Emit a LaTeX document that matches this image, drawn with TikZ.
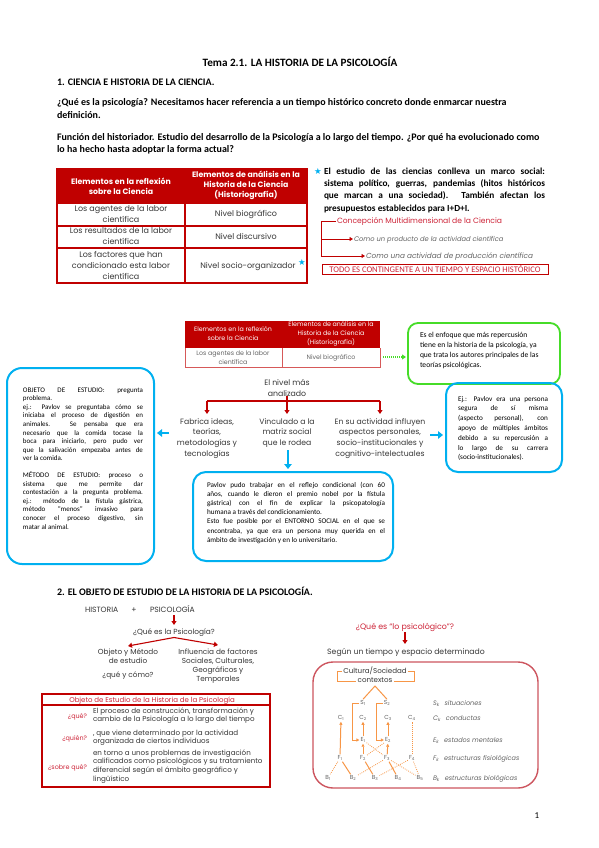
\documentclass[tikz,border=0pt]{standalone}
\usepackage{fontspec}
\setmainfont{Carlito}
\newfontfamily\cg{Poppins}
\newfontfamily\dv{DejaVu Sans}
\usetikzlibrary{arrows.meta}
\definecolor{tred}{RGB}{192,0,0}
\definecolor{rtxt}{RGB}{205,35,55}
\definecolor{cblue}{RGB}{0,176,240}
\definecolor{cgreen}{RGB}{70,220,40}
\definecolor{corange}{RGB}{247,150,70}
\definecolor{cpink}{RGB}{205,85,95}
\definecolor{dgray}{RGB}{55,55,55}
\definecolor{mgray}{RGB}{100,100,100}
\newcommand\jl[2]{\makebox[#1][s]{#2}}
\newcommand\cgf[2]{\cg\fontsize{#1}{#2}\selectfont}
\newcommand\cbf[2]{\fontsize{#1}{#2}\selectfont}
\begin{document}
\begin{tikzpicture}[x=1pt,y=-1pt,
 txt/.style={inner sep=0pt,outer sep=0pt},
 body/.style={txt,anchor=base west,font=\cbf{10}{12}\bfseries},
 rbody/.style={txt,anchor=base west,font=\cbf{9.3}{12}\bfseries},
 tline/.style={tred,line width=1.2pt},
 redarr/.style={tred,line width=1.1pt,-{Triangle[length=4pt,width=5pt]}},
 bluearr/.style={cblue,line width=2.6pt,-{Triangle[length=5pt,width=7.5pt]}},
 boxnode/.style={draw,inner sep=0pt,outer sep=0pt,anchor=north west},
 orl/.style={corange,line width=1pt},
 ora/.style={corange,line width=1pt,-{Triangle[length=3pt,width=3pt]}},
 ord/.style={corange,line width=0.8pt,dash pattern=on 0.8pt off 1.2pt},
 glyph/.style={txt,text=mgray,font=\cgf{5.8}{6},inner sep=1.2pt},
 leg/.style={txt,anchor=base west,text=mgray,font=\cgf{6.5}{7}\itshape},
 cell/.style={txt,anchor=base,text=dgray,font=\cgf{8}{11}},
]
\useasboundingbox (0,0) rectangle (599,848);
\fill[white] (0,0) rectangle (599,848);

% ---------- top text
\node[txt,anchor=base,font=\cbf{11.2}{13}\bfseries] (title) at (300,67) {Tema 2.1. LA HISTORIA DE LA PSICOLOGÍA};
\node[body] (h1) at (57,86) {1. CIENCIA E HISTORIA DE LA CIENCIA.};
\node[body] (p1a) at (57,106) {¿Qué es la psicología? Necesitamos hacer referencia a un tiempo histórico concreto donde enmarcar nuestra};
\node[body] (p1b) at (57,118.5) {definición.};
\node[body] (p2a) at (57,140.5) {Función del historiador. Estudio del desarrollo de la Psicología a lo largo del tiempo. ¿Por qué ha evolucionado como};
\node[body] (p2b) at (57,152.5) {lo ha hecho hasta adoptar la forma actual?};

% ---------- table 1
\fill[tred] (57,169) rectangle (307,203);
\draw[tline] (57,169) rectangle (307,283);
\draw[tline] (185,169) -- (185,283) (57,203) -- (307,203) (57,226) -- (307,226) (57,248) -- (307,248);
\node[txt,anchor=base,text=white,font=\cgf{7.8}{10}\bfseries] (th1) at (121,184.5) {\parbox[t]{150pt}{\centering Elementos en la reflexión\\sobre la Ciencia}};
\node[txt,anchor=base,text=white,font=\cgf{7.8}{10}\bfseries] (th2) at (246,177.5) {\parbox[t]{150pt}{\centering Elementos de análisis en la\\Historia de la Ciencia\\(Historiografía)}};
\node[cell] (tr1) at (121,211) {\parbox[t]{150pt}{\centering Los agentes de la labor\\científica}};
\node[cell] (tr2) at (121,233) {\parbox[t]{150pt}{\centering Los resultados de la labor\\científica}};
\node[cell] (tr3) at (121,257.5) {\parbox[t]{150pt}{\centering Los factores que han\\condicionado esta labor\\científica}};
\node[cell] (tn1) at (246,216) {Nivel biográfico};
\node[cell] (tn2) at (246,239.5) {Nivel discursivo};
\node[cell] (tn3) at (248,268.5) {Nivel socio-organizador};
\node[txt,text=cblue,font=\dv\fontsize{8.5}{8}\selectfont] (star1) at (302,262) {★};

% ---------- right text block
\node[txt,text=cblue,font=\dv\fontsize{8.5}{8}\selectfont] (star2) at (318,171.5) {★};
\node[rbody] (r1) at (324,174.5) {\jl{221pt}{El estudio de las ciencias conlleva un marco social:}};
\node[rbody] (r2) at (324,186.7) {\jl{221pt}{sistema político, guerras, pandemias (hitos históricos}};
\node[rbody] (r3) at (324,198.9) {\jl{221pt}{que marcan a una sociedad). También afectan los}};
\node[rbody] (r4) at (324,211.1) {presupuestos establecidos para I+D+I.};
\node[txt,anchor=base west,text=rtxt,font=\cgf{7.6}{8}] (conc) at (337,223.8) {Concepción Multidimensional de la Ciencia};
\node[txt,anchor=base west,text=mgray,font=\cgf{6.7}{8}\itshape] (como1) at (354,241.7) {Como un producto de la actividad científica};
\node[txt,anchor=base west,text=mgray,font=\cgf{7.3}{8}\itshape] (como2) at (366,258.8) {Como una actividad de producción científica};
\coordinate (bk) at (321,221);
\coordinate (bk1) at (321,239);
\coordinate (bk2) at (321,256);
\draw[tred,line width=1pt] ([xshift=-1pt]conc.west |- bk) -- (bk) -- (bk2);
\draw[tred,line width=1pt,-{Triangle[length=3.5pt,width=4pt]}] (bk1) -- ([xshift=-1pt]como1.west |- bk1);
\draw[tred,line width=1pt,-{Triangle[length=3.5pt,width=4pt]}] (bk2) -- ([xshift=-1pt]como2.west |- bk2);
\node[boxnode,draw=tred,line width=0.9pt,minimum width=226pt,minimum height=10.5pt] (todo) at (322,264) {};
\node[txt,text=rtxt,font=\cbf{8.6}{9}] (todot) at (todo.center) {TODO ES CONTINGENTE A UN TIEMPO Y ESPACIO HISTÓRICO};

% ---------- small table copy
\fill[tred] (185,321) rectangle (380,348);
\draw[tred!65,line width=1pt] (185,348) -- (185,367) -- (380,367) -- (380,348) (282,348) -- (282,367);
\node[txt,anchor=base,text=white,font=\cgf{6.3}{9}] (st1) at (233,331.5) {\parbox[t]{120pt}{\centering Elementos en la reflexión\\sobre la Ciencia}};
\node[txt,anchor=base,text=white,font=\cgf{6.3}{9}] (st2) at (331,326.5) {\parbox[t]{120pt}{\centering Elementos de análisis en la\\Historia de la Ciencia\\(Historiografía)}};
\node[txt,anchor=base,text=mgray,font=\cgf{6.3}{9}] (st3) at (233,355) {\parbox[t]{120pt}{\centering Los agentes de la labor\\científica}};
\node[txt,anchor=base,text=mgray,font=\cgf{6.3}{9}] (st4) at (331,359) {Nivel biográfico};

% ---------- green box
\node[boxnode,draw=cgreen,line width=1.8pt,rounded corners=10pt,minimum width=152pt,minimum height=61pt] (gbox) at (408,323) {};
\node[txt,anchor=base west,font=\cbf{7.6}{10}] (gt) at (420,337) {\parbox[t]{140pt}{Es el enfoque que más repercusión\\tiene en la historia de la psicología, ya\\que trata los autores principales de las\\teorías psicológicas.}};
\coordinate (ga) at (383,357);
\draw[cgreen,line width=1.2pt,dash pattern=on 1pt off 1pt,-{Triangle[length=4pt,width=5pt]}] (ga) -- ([xshift=-2pt]gbox.west |- ga);

% ---------- El nivel mas analizado tree
\node[txt,anchor=base,text=dgray,font=\cgf{7.8}{10.7}] (niv) at (287,385.5) {\parbox[t]{90pt}{\centering El nivel más\\analizado}};
\node[txt,anchor=base,text=dgray,font=\cgf{7.7}{10.7}] (fab) at (207,424) {\parbox[t]{120pt}{\centering Fabrica ideas,\\teorías,\\metodologías y\\tecnologías}};
\node[txt,anchor=base,text=dgray,font=\cgf{7.7}{10.7}] (vinc) at (287,424) {\parbox[t]{100pt}{\centering Vinculado a la\\matriz social\\que le rodea}};
\node[txt,anchor=base,text=dgray,font=\cgf{7.7}{10.7}] (ensu) at (380,424) {\parbox[t]{130pt}{\centering En su actividad influyen\\aspectos personales,\\socio-institucionales y\\cognitivo-intelectuales}};
\coordinate (tj) at (287,401);
\coordinate (tl) at (207,401);
\coordinate (tr) at (380,401);
\coordinate (tlb) at (207,414);
\coordinate (tjb) at (287,414);
\coordinate (trb) at (380,414);
\draw[tred,line width=1.1pt] (niv.south) -- (tj) (tl) -- (tr);
\draw[redarr] (tl) -- (tlb);
\draw[redarr] (tj) -- (tjb);
\draw[redarr] (tr) -- (trb);

% ---------- blue boxes
\node[boxnode,draw=cblue,line width=2pt,rounded corners=15pt,minimum width=147pt,minimum height=196pt] (lbox) at (7,368) {};
\node[txt,anchor=base west,font=\cbf{7}{8.6}] (lbt1) at (23,392) {\parbox[t]{120pt}{%
\jl{120pt}{OBJETO DE ESTUDIO: pregunta}\\
problema.\\
\jl{120pt}{ej.: Pavlov se preguntaba cómo se}\\
\jl{120pt}{iniciaba el proceso de digestión en}\\
\jl{120pt}{animales. Se pensaba que era}\\
\jl{120pt}{necesario que la comida tocase la}\\
\jl{120pt}{boca para iniciarlo, pero pudo ver}\\
\jl{120pt}{que la salivación empezaba antes de}\\
ver la comida.}};
\node[txt,anchor=base west,font=\cbf{7}{8.6}] (lbt2) at (23,477.5) {\parbox[t]{120pt}{%
\jl{120pt}{MÉTODO DE ESTUDIO: proceso o}\\
\jl{120pt}{sistema que me permite dar}\\
\jl{120pt}{contestación a la pregunta problema.}\\
\jl{120pt}{ej.: método de la fístula gástrica,}\\
\jl{120pt}{método “menos” invasivo para}\\
\jl{120pt}{conocer el proceso digestivo, sin}\\
matar al animal.}};
\coordinate (la) at (169,433);
\draw[bluearr,shorten >=3pt] (la) -- (la -| lbox.east);

\node[boxnode,draw=cblue,line width=2pt,rounded corners=12pt,minimum width=116pt,minimum height=89pt] (rbox) at (446,383) {};
\node[txt,anchor=base west,font=\cbf{7.2}{9.8}] (rbt) at (458,401) {\parbox[t]{90pt}{%
\jl{90pt}{Ej.: Pavlov era una persona}\\
\jl{90pt}{segura de sí misma}\\
\jl{90pt}{(aspecto personal), con}\\
\jl{90pt}{apoyo de múltiples ámbitos}\\
\jl{90pt}{debido a su repercusión a}\\
\jl{90pt}{lo largo de su carrera}\\
(socio-institucionales).}};
\coordinate (ra) at (430,435);
\draw[bluearr,shorten >=3pt] (ra) -- (ra -| rbox.west);

\node[boxnode,draw=cblue,line width=2pt,rounded corners=13pt,minimum width=200pt,minimum height=89pt] (pbox) at (193,472) {};
\node[txt,anchor=base west,font=\cbf{7.2}{9.2}] (pbt) at (207,487) {\parbox[t]{178pt}{%
\jl{178pt}{Pavlov pudo trabajar en el reflejo condicional (con 60}\\
\jl{178pt}{años, cuando le dieron el premio nobel por la fístula}\\
\jl{178pt}{gástrica) con el fin de explicar la psicopatología}\\
humana a través del condicionamiento.\\
\jl{178pt}{Esto fue posible por el ENTORNO SOCIAL en el que se}\\
\jl{178pt}{encontraba, ya que era un persona muy querida en el}\\
ámbito de investigación y en lo universitario.}};
\coordinate (da) at (288,450);
\draw[bluearr,shorten >=3pt] (da) -- (da |- pbox.north);

% ---------- section 2
\node[body] (h2) at (57,595) {2. EL OBJETO DE ESTUDIO DE LA HISTORIA DE LA PSICOLOGÍA.};
\node[txt,anchor=base west,text=dgray,font=\cgf{7.6}{8}] (hist) at (85,612) {HISTORIA};
\node[txt,anchor=base,text=dgray,font=\cgf{7.6}{8}] (plus) at (134,612) {+};
\node[txt,anchor=base west,text=dgray,font=\cgf{7.6}{8}] (psic) at (150,612) {PSICOLOGÍA};
\node[txt,anchor=base,text=dgray,font=\cgf{7.4}{8}] (quees) at (174,634) {¿Qué es la Psicología?};
\coordinate (pa) at (174,615);
\coordinate (pb) at (174,625);
\draw[redarr] (pa) -- (pb);
\coordinate (qa) at (174,637.5);
\coordinate (qb) at (128,646);
\coordinate (qc) at (218,645);
\draw[redarr] (qa) -- (qb);
\draw[redarr] (qa) -- (qc);
\node[txt,anchor=base,text=dgray,font=\cgf{7.3}{8.6}] (obj) at (128,654.5) {\parbox[t]{100pt}{\centering Objeto y Método\\de estudio}};
\node[txt,anchor=base,text=dgray,font=\cgf{7.3}{8.6}] (qyc) at (128,677.5) {¿qué y cómo?};
\node[txt,anchor=base,text=dgray,font=\cgf{7.3}{9}] (infl) at (218,654.5) {\parbox[t]{120pt}{\centering Influencia de factores\\Sociales, Culturales,\\Geográficos y\\Temporales}};

% ---------- bottom-left table
\draw[tred,line width=1.2pt] (42,694) rectangle (270,787);
\draw[tred,line width=1.6pt] (42,705) -- (270,705);
\node[txt,anchor=base,text=rtxt,font=\cgf{7}{7}] (obh) at (152,702) {Objeto de Estudio de la Historia de la Psicología};
\node[txt,anchor=base east,text=rtxt,font=\cgf{6.4}{8}] (q1) at (87,718) {¿qué?};
\node[txt,anchor=base east,text=rtxt,font=\cgf{6.4}{8}] (q2) at (87,740) {¿quién?};
\node[txt,anchor=base east,text=rtxt,font=\cgf{6.4}{8}] (q3) at (87,769) {¿sobre qué?};
\node[txt,anchor=base west,text=dgray,font=\cgf{7.15}{8.8}] (a1) at (93,713) {\parbox[t]{190pt}{El proceso de construcción, transformación y\\cambio de la Psicología a lo largo del tiempo}};
\node[txt,anchor=base west,text=dgray,font=\cgf{7.15}{8.8}] (a2) at (93,735) {\parbox[t]{190pt}{, que viene determinado por la actividad\\organizada de ciertos individuos}};
\node[txt,anchor=base west,text=dgray,font=\cgf{7.15}{8.9}] (a3) at (93,755) {\parbox[t]{190pt}{en torno a unos problemas de investigación\\calificados como psicológicos y su tratamiento\\diferencial según el ámbito geográfico y\\lingüístico}};

% ---------- right diagram
\node[txt,anchor=base,text=rtxt,font=\cgf{7.9}{8}] (lops) at (405,629) {¿Qué es “lo psicológico”?};
\node[txt,anchor=base,text=dgray,font=\cgf{7.7}{8}] (segun) at (406,654) {Según un tiempo y espacio determinado};
\coordinate (lpa) at (405,632);
\coordinate (lpb) at (405,644);
\draw[redarr] (lpa) -- (lpb);
\node[boxnode,draw=cpink,line width=1.4pt,rounded corners=20pt,minimum width=225pt,minimum height=126pt] (pink) at (313,662) {};
\node[txt,anchor=base,text=dgray,font=\cgf{7.1}{9}] (cult) at (375,673.3) {\parbox[t]{90pt}{\centering Cultura/Sociedad\\contextos}};
\draw[orl] (342,671) -- (337,671) -- (337,681) -- (356,681);
\draw[orl] (408,671) -- (414,671) -- (414,681) -- (394,681);

\node[glyph] (S1) at (363,703) {S\textsubscript{1}};
\node[glyph] (S2) at (387,703) {S\textsubscript{2}};
\node[glyph] (C1) at (341,718) {C\textsubscript{1}};
\node[glyph] (C2) at (363,718) {C\textsubscript{2}};
\node[glyph] (C3) at (388,718) {C\textsubscript{3}};
\node[glyph] (C4) at (412,718) {C\textsubscript{4}};
\node[glyph] (E1) at (363,740) {E\textsubscript{1}};
\node[glyph] (E2) at (388,740) {E\textsubscript{2}};
\node[glyph] (F1) at (340,758) {F\textsubscript{1}};
\node[glyph] (F2) at (363,758) {F\textsubscript{2}};
\node[glyph] (F3) at (387,758) {F\textsubscript{3}};
\node[glyph] (F4) at (412,758) {F\textsubscript{4}};
\node[glyph] (B1) at (328,778) {B\textsubscript{1}};
\node[glyph] (B2) at (353,778) {B\textsubscript{2}};
\node[glyph] (B3) at (375,778) {B\textsubscript{3}};
\node[glyph] (B4) at (398,778) {B\textsubscript{4}};
\node[glyph] (B5) at (420,778) {B\textsubscript{5}};

\coordinate (pk) at (375,686);
\draw[orl] (S1.north) -- (pk) -- (S2.north);
\draw[ora] (S1.west) -- ++(-7,0) |- (E1.west);
\draw[ora] (S2.west) -- ++(-6,0) |- (E2.west);
\draw[ora] (F1) -- (C1);
\draw[ora] (E1) -- (C2);
\draw[ora] (E2) -- (C3);
\draw[ora] (F2) -- (E1);
\draw[ora] (F3) -- (E2);
\draw[ord] (F4) -- (C4);
\draw[ord] (E1) -- (F3);
\draw[ord] (E2) -- (F2);
\draw[ord] (F1) -- (B1);
\draw[orl] (F1) -- (B2);
\draw[orl] (F2) -- (B3);
\draw[orl] (F3) -- (B4);
\draw[ord] (F3) -- (B2);
\draw[ord] (F4) -- (B3);
\draw[ord] (F4) -- (B5);
\draw[ord] (F3) -- (B5);

\node[leg] (l1) at (433,705) {S\textsubscript{k}\hspace{3pt} situaciones};
\node[leg] (l2) at (433,720) {C\textsubscript{k}\hspace{3pt} conductas};
\node[leg] (l3) at (433,742) {E\textsubscript{k}\hspace{3pt} estados mentales};
\node[leg] (l4) at (433,760) {F\textsubscript{k}\hspace{3pt} estructuras fisiológicas};
\node[leg] (l5) at (433,780) {B\textsubscript{k}\hspace{3pt} estructuras biológicas};

% page number
\node[txt,anchor=base,font=\cbf{9}{11}] (pg) at (537,818) {1};
\end{tikzpicture}
\end{document}
